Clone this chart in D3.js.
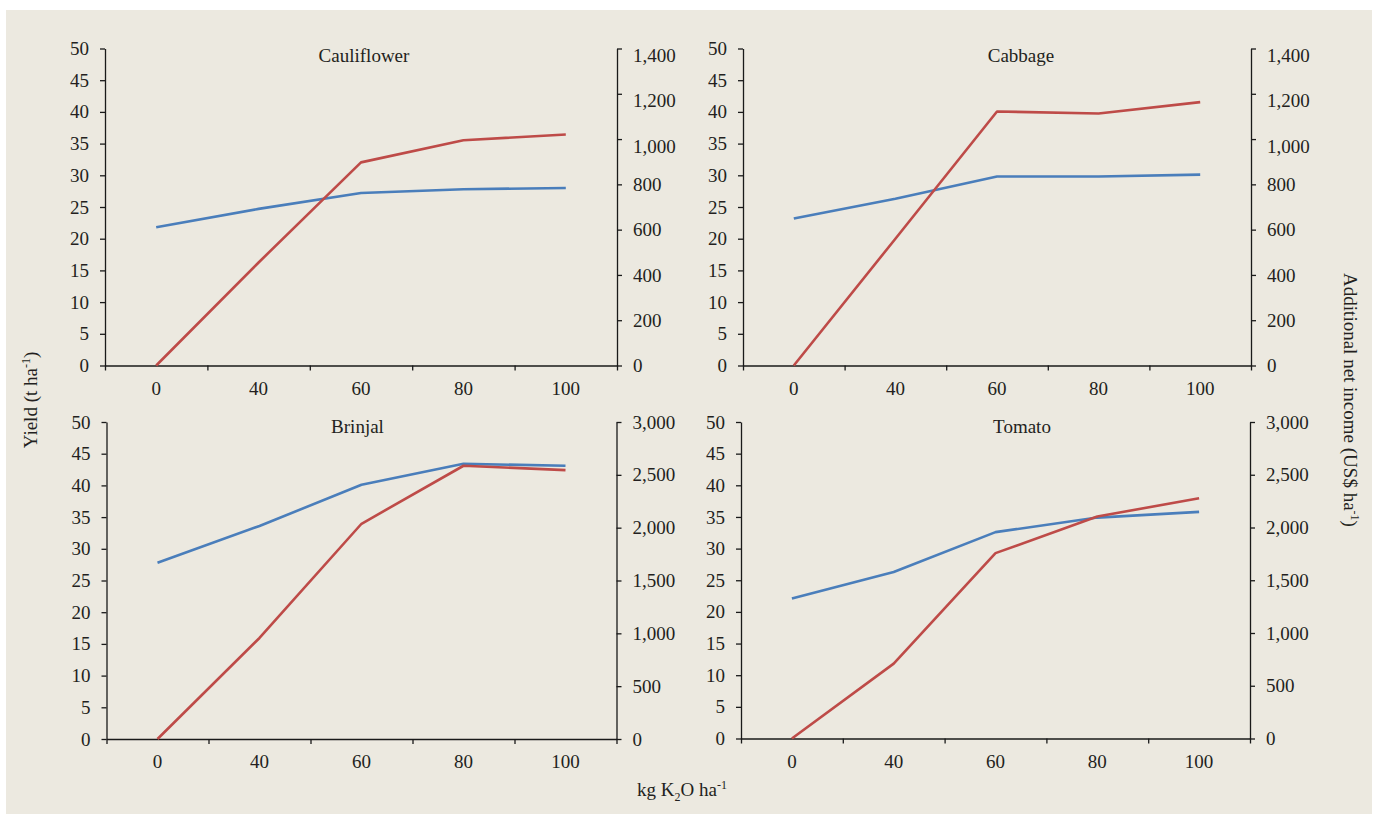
<!DOCTYPE html>
<html>
<head>
<meta charset="utf-8">
<script src="https://cdn.jsdelivr.net/npm/d3@7"></script>
<style>
  body { margin: 0; background: #fff; }
  text { font-family: "Liberation Serif", "Times New Roman", serif; fill: #231f20; }
</style>
</head>
<body>
<div id="chart"></div>
<script>
// x categories (kg K2O/ha)
const doses = ["0", "40", "60", "80", "100"];

// yield t/ha (left axis)
const cauliflowerYield = [21.8, 24.7, 27.2, 27.8, 28.0];
const cabbageYield = [23.2, 26.3, 29.8, 29.8, 30.1];
const brinjalYield = [27.8, 33.6, 40.1, 43.4, 43.1];
const tomatoYield = [22.1, 26.3, 32.6, 34.9, 35.8];

// additional net income US$/ha (right axis)
const cauliflowerIncome = [0, 455, 897, 995, 1020];
const cabbageIncome = [0, 560, 1122, 1113, 1163];
const brinjalIncome = [0, 956, 2037, 2586, 2545];
const tomatoIncome = [0, 710, 1757, 2104, 2277];

const yieldTicks = d3.range(0, 51, 5);
const incomeTicksSmall = d3.range(0, 1401, 200);
const incomeTicksLarge = d3.range(0, 3001, 500);

const WIDTH = 1378, HEIGHT = 814;
const BLUE = "#4a7ebb", RED = "#be4b48";
const FONT = 19;

var panels = [
  { title: "Cauliflower", yld: cauliflowerYield, inc: cauliflowerIncome, incTicks: incomeTicksSmall,
    left: 105, right: 617, top: 48.5, bottom: 365.5, titleX: 364, titleY: 62, commaShift: 7 },
  { title: "Cabbage", yld: cabbageYield, inc: cabbageIncome, incTicks: incomeTicksSmall,
    left: 743, right: 1251, top: 48.5, bottom: 365.5, titleX: 1021, titleY: 62, commaShift: 7 },
  { title: "Brinjal", yld: brinjalYield, inc: brinjalIncome, incTicks: incomeTicksLarge,
    left: 106.5, right: 616.5, top: 422, bottom: 739, titleX: 357.5, titleY: 433, commaShift: 0 },
  { title: "Tomato", yld: tomatoYield, inc: tomatoIncome, incTicks: incomeTicksLarge,
    left: 741, right: 1250, top: 422, bottom: 738.5, titleX: 1022, titleY: 433, commaShift: 0 }
];

const svg = d3.select("#chart").append("svg")
  .attr("width", WIDTH)
  .attr("height", HEIGHT);

svg.append("rect")
  .attr("x", 6).attr("y", 10)
  .attr("width", 1366).attr("height", 804)
  .attr("fill", "#ece9e0");

panels.forEach(function (p) {
  var g = svg.append("g");

  var x = d3.scaleBand().domain(doses).range([p.left, p.right]);
  var xEdges = d3.scaleLinear().domain([0, doses.length]).range([p.left, p.right]);
  var yL = d3.scaleLinear().domain([0, 50]).range([p.bottom, p.top]);
  var incMax = d3.max(p.incTicks);
  var yR = d3.scaleLinear().domain([0, incMax]).range([p.bottom, p.top]);

  // left axis
  g.append("g")
    .attr("class", "y axis")
    .attr("transform", "translate(" + p.left + ",0)")
    .call(d3.axisLeft(yL).tickValues(yieldTicks).tickSize(5).tickPadding(11).tickSizeOuter(0));

  // right axis
  var ra = g.append("g")
    .attr("class", "y axis right")
    .attr("transform", "translate(" + p.right + ",0)")
    .call(d3.axisRight(yR).tickValues(p.incTicks).tickSize(5).tickPadding(11).tickSizeOuter(0)
      .tickFormat(d3.format(",")));
  // the thousands labels of the top charts sit a little low in the original
  ra.selectAll(".tick text")
    .attr("y", d => d >= 1000 ? p.commaShift : 0);

  // x axis: ticks at band edges, labels at band centres
  g.append("g")
    .attr("class", "x axis")
    .attr("transform", "translate(0," + p.bottom + ")")
    .call(d3.axisBottom(xEdges).ticks(doses.length).tickSize(5).tickSizeOuter(0).tickFormat(""));
  g.append("g")
    .attr("class", "x axis labels")
    .attr("transform", "translate(0," + p.bottom + ")")
    .call(d3.axisBottom(x).tickSize(0).tickPadding(16))
    .call(a => a.select(".domain").remove());

  g.selectAll(".axis path, .axis line")
    .attr("stroke", "#1a1a1a")
    .attr("stroke-width", 1.3);
  g.selectAll(".axis text")
    .attr("font-size", FONT)
    .attr("fill", "#231f20")
    .attr("font-family", "Liberation Serif, serif");

  var lineY = d3.line()
    .x((d, i) => x(doses[i]) + x.bandwidth() / 2)
    .y(d => yL(d));
  var lineI = d3.line()
    .x((d, i) => x(doses[i]) + x.bandwidth() / 2)
    .y(d => yR(d));

  g.append("path")
    .datum(p.yld)
    .attr("fill", "none")
    .attr("stroke", BLUE)
    .attr("stroke-width", 2.6)
    .attr("stroke-linejoin", "round")
    .attr("d", lineY);

  g.append("path")
    .datum(p.inc)
    .attr("fill", "none")
    .attr("stroke", RED)
    .attr("stroke-width", 2.6)
    .attr("stroke-linejoin", "round")
    .attr("d", lineI);

  g.append("text")
    .attr("x", p.titleX)
    .attr("y", p.titleY)
    .attr("text-anchor", "middle")
    .attr("font-size", FONT)
    .text(p.title);
});

// axis titles
var yl = svg.append("text")
  .attr("transform", "translate(37,400) rotate(-90)")
  .attr("text-anchor", "middle")
  .attr("font-size", FONT);
yl.append("tspan").text("Yield (t ha");
yl.append("tspan").attr("font-size", 12).attr("dy", -7).text("-1");
yl.append("tspan").attr("dy", 7).text(")");

var yr = svg.append("text")
  .attr("transform", "translate(1344,400) rotate(90)")
  .attr("text-anchor", "middle")
  .attr("font-size", FONT);
yr.append("tspan").text("Additional net income (US$ ha");
yr.append("tspan").attr("font-size", 12).attr("dy", -7).text("-1");
yr.append("tspan").attr("dy", 7).text(")");

var xl = svg.append("text")
  .attr("x", 682)
  .attr("y", 796)
  .attr("text-anchor", "middle")
  .attr("font-size", FONT);
xl.append("tspan").text("kg K");
xl.append("tspan").attr("font-size", 12).attr("dy", 5).text("2");
xl.append("tspan").attr("dy", -5).text("O ha");
xl.append("tspan").attr("font-size", 12).attr("dy", -7).text("-1");
</script>
</body>
</html>
